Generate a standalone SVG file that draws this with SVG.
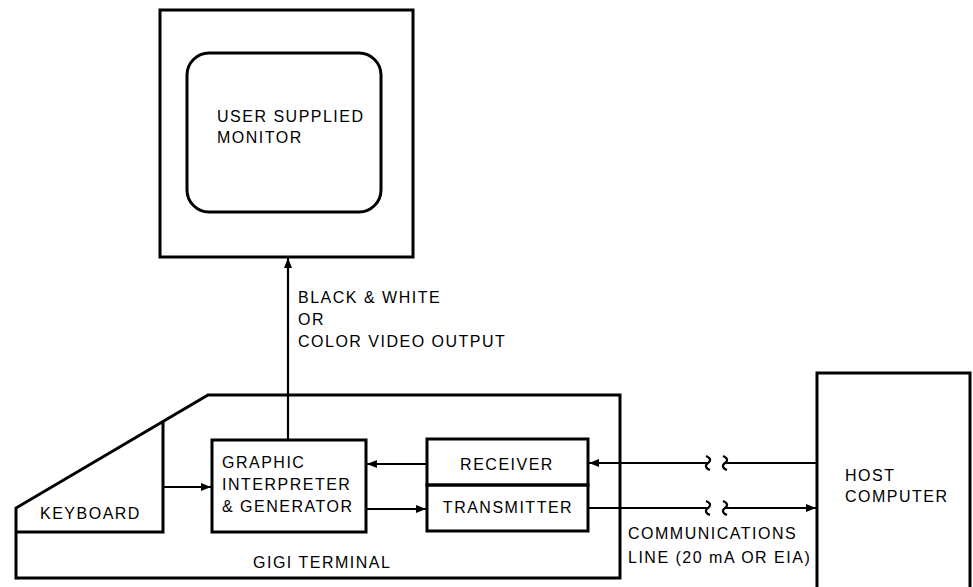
<svg xmlns="http://www.w3.org/2000/svg" width="973" height="587" viewBox="0 0 973 587">
<style>
.box{fill:none;stroke:#000;stroke-width:3}
.ln{fill:none;stroke:#000;stroke-width:2.2}
.t{font-family:"Liberation Sans",Arial,sans-serif;font-size:16px;letter-spacing:1.5px;fill:#000}
</style>
<defs>
<marker id="ah" viewBox="0 0 10 8" refX="10" refY="4" markerWidth="10" markerHeight="8" markerUnits="userSpaceOnUse" orient="auto">
<path d="M0,0 L10,4 L0,8 Z" fill="#000"/>
</marker>
</defs>
<rect width="973" height="587" fill="#fff"/>
<g id="monitor">
<rect class="box" x="160" y="10" width="253" height="247"/>
<rect class="box" x="187" y="53" width="194" height="159" rx="22"/>
<text class="t" x="217" y="122">USER SUPPLIED</text>
<text class="t" x="217" y="143">MONITOR</text>
</g>
<g id="terminal">
<path class="box" d="M208,395 H620 V578 H16 V508 Z"/>
<text class="t" x="253" y="568">GIGI TERMINAL</text>
</g>
<g id="keyboard">
<path class="box" d="M163,421 V532 H16"/>
<text class="t" x="40" y="519">KEYBOARD</text>
</g>
<g id="graphic">
<rect class="box" x="212" y="440" width="154" height="92"/>
<text class="t" x="222" y="468">GRAPHIC</text>
<text class="t" x="222" y="490">INTERPRETER</text>
<text class="t" x="222" y="512">&amp; GENERATOR</text>
</g>
<g id="receiver">
<rect class="box" x="427" y="439" width="161" height="46"/>
<text class="t" x="507" y="470" text-anchor="middle">RECEIVER</text>
</g>
<g id="transmitter">
<rect class="box" x="427" y="485" width="161" height="46"/>
<text class="t" x="508" y="513" text-anchor="middle">TRANSMITTER</text>
</g>
<g id="host">
<path class="box" d="M817,590 V373 H970 V590"/>
<text class="t" x="845" y="481">HOST</text>
<text class="t" x="845" y="502">COMPUTER</text>
</g>
<g id="labels">
<text class="t" x="298" y="303">BLACK &amp; WHITE</text>
<text class="t" x="298" y="325">OR</text>
<text class="t" x="298" y="347">COLOR VIDEO OUTPUT</text>
<text class="t" x="628" y="539">COMMUNICATIONS</text>
<text class="t" x="628" y="563">LINE (20 mA OR EIA)</text>
</g>
<g id="connectors">
<line class="ln" x1="288" y1="440" x2="288" y2="258" marker-end="url(#ah)"/>
<line class="ln" x1="163" y1="487" x2="211" y2="487" marker-end="url(#ah)"/>
<line class="ln" x1="427" y1="464" x2="367" y2="464" marker-end="url(#ah)"/>
<line class="ln" x1="366" y1="509" x2="426" y2="509" marker-end="url(#ah)"/>
<path class="ln" d="M708,463 H589" marker-end="url(#ah)"/>
<path class="ln" d="M706,456 C711,458 711,461 708,463 C705,465 705,468 710,470"/>
<path class="ln" d="M817,463 H725"/>
<path class="ln" d="M723,456 C728,458 728,461 725,463 C722,465 722,468 727,470"/>
<path class="ln" d="M588,508 H708"/>
<path class="ln" d="M706,501 C711,503 711,506 708,508 C705,510 705,513 710,515"/>
<path class="ln" d="M723,501 C728,503 728,506 725,508 C722,510 722,513 727,515"/>
<line class="ln" x1="725" y1="508" x2="816" y2="508" marker-end="url(#ah)"/>
</g>
</svg>
